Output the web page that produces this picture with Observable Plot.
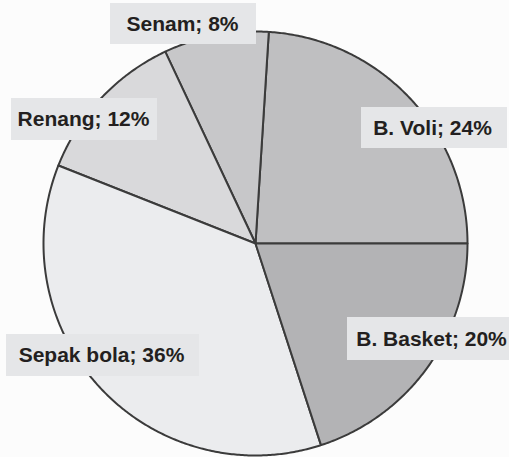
<!DOCTYPE html>
<html>
<head>
<meta charset="utf-8">
<script src="https://cdn.jsdelivr.net/npm/d3@7"></script>
<script src="https://cdn.jsdelivr.net/npm/@observablehq/plot@0.6"></script>
<style>
  html, body { margin: 0; padding: 0; background: #fcfcfc; }
  #chart svg { display: block; }
</style>
</head>
<body>
<div id="chart"></div>
<script>
// Olahraga favorit (persen)
const sports = ["B. Voli", "Senam", "Renang", "Sepak bola", "B. Basket"];
const shares = [24, 8, 12, 36, 20];
const sliceColors = ["#bfbfc1", "#c7c7c9", "#d9d9db", "#ebecee", "#b3b3b5"];

// Label placement (pixel boxes: left, top, right, bottom) and text centre
const labelBoxes = [
  [361, 107, 507, 148],
  [110, 3, 256, 44],
  [11, 98, 157, 140],
  [6, 334, 199, 376],
  [347, 317, 512, 360]
];
const labelCenters = [432, 182, 83, 101, 431];

const W = 509, H = 457;
const cx = 255, cy = 243, R = 212;
const ux = px => (px - cx) / R;
const uy = py => (cy - py) / R;

// Slices run counter-clockwise from 3 o'clock
const total = d3.sum(shares);
const slicePts = [];
let acc = 0;
sports.forEach((name, i) => {
  const a0 = (acc / total) * 2 * Math.PI;
  acc += shares[i];
  const a1 = (acc / total) * 2 * Math.PI;
  slicePts.push({name, x: 0, y: 0});
  const n = Math.max(2, Math.ceil((a1 - a0) / (Math.PI / 360)));
  for (let k = 0; k <= n; k++) {
    const a = a0 + (a1 - a0) * k / n;
    slicePts.push({name, x: Math.cos(a), y: Math.sin(a)});
  }
});

const labels = sports.map((name, i) => ({
  text: `${name}; ${shares[i]}%`,
  x1: ux(labelBoxes[i][0]), x2: ux(labelBoxes[i][2]),
  y1: uy(labelBoxes[i][3]), y2: uy(labelBoxes[i][1]),
  tx: ux(labelCenters[i]),
  ty: uy((labelBoxes[i][1] + labelBoxes[i][3]) / 2)
}));

const chart = Plot.plot({
  width: W,
  height: H,
  margin: 0,
  style: {background: "#fcfcfc"},
  x: {domain: [ux(0), ux(W)], range: [0, W], axis: null},
  y: {domain: [uy(H), uy(0)], range: [H, 0], axis: null},
  color: {domain: sports, range: sliceColors},
  marks: [
    Plot.line(slicePts, {
      x: "x", y: "y", z: "name", fill: "name",
      curve: "linear-closed",
      stroke: "#3b3b3b", strokeWidth: 2, strokeLinejoin: "round"
    }),
    Plot.rect(labels, {x1: "x1", x2: "x2", y1: "y1", y2: "y2", fill: "#e5e6e8"}),
    Plot.text(labels, {
      x: "tx", y: "ty", text: "text",
      fill: "#231f20", fontSize: 21, fontWeight: "bold",
      fontFamily: "'Liberation Sans', Arial, sans-serif",
      textAnchor: "middle", lineAnchor: "middle"
    })
  ]
});
document.getElementById("chart").appendChild(chart);
</script>
</body>
</html>
